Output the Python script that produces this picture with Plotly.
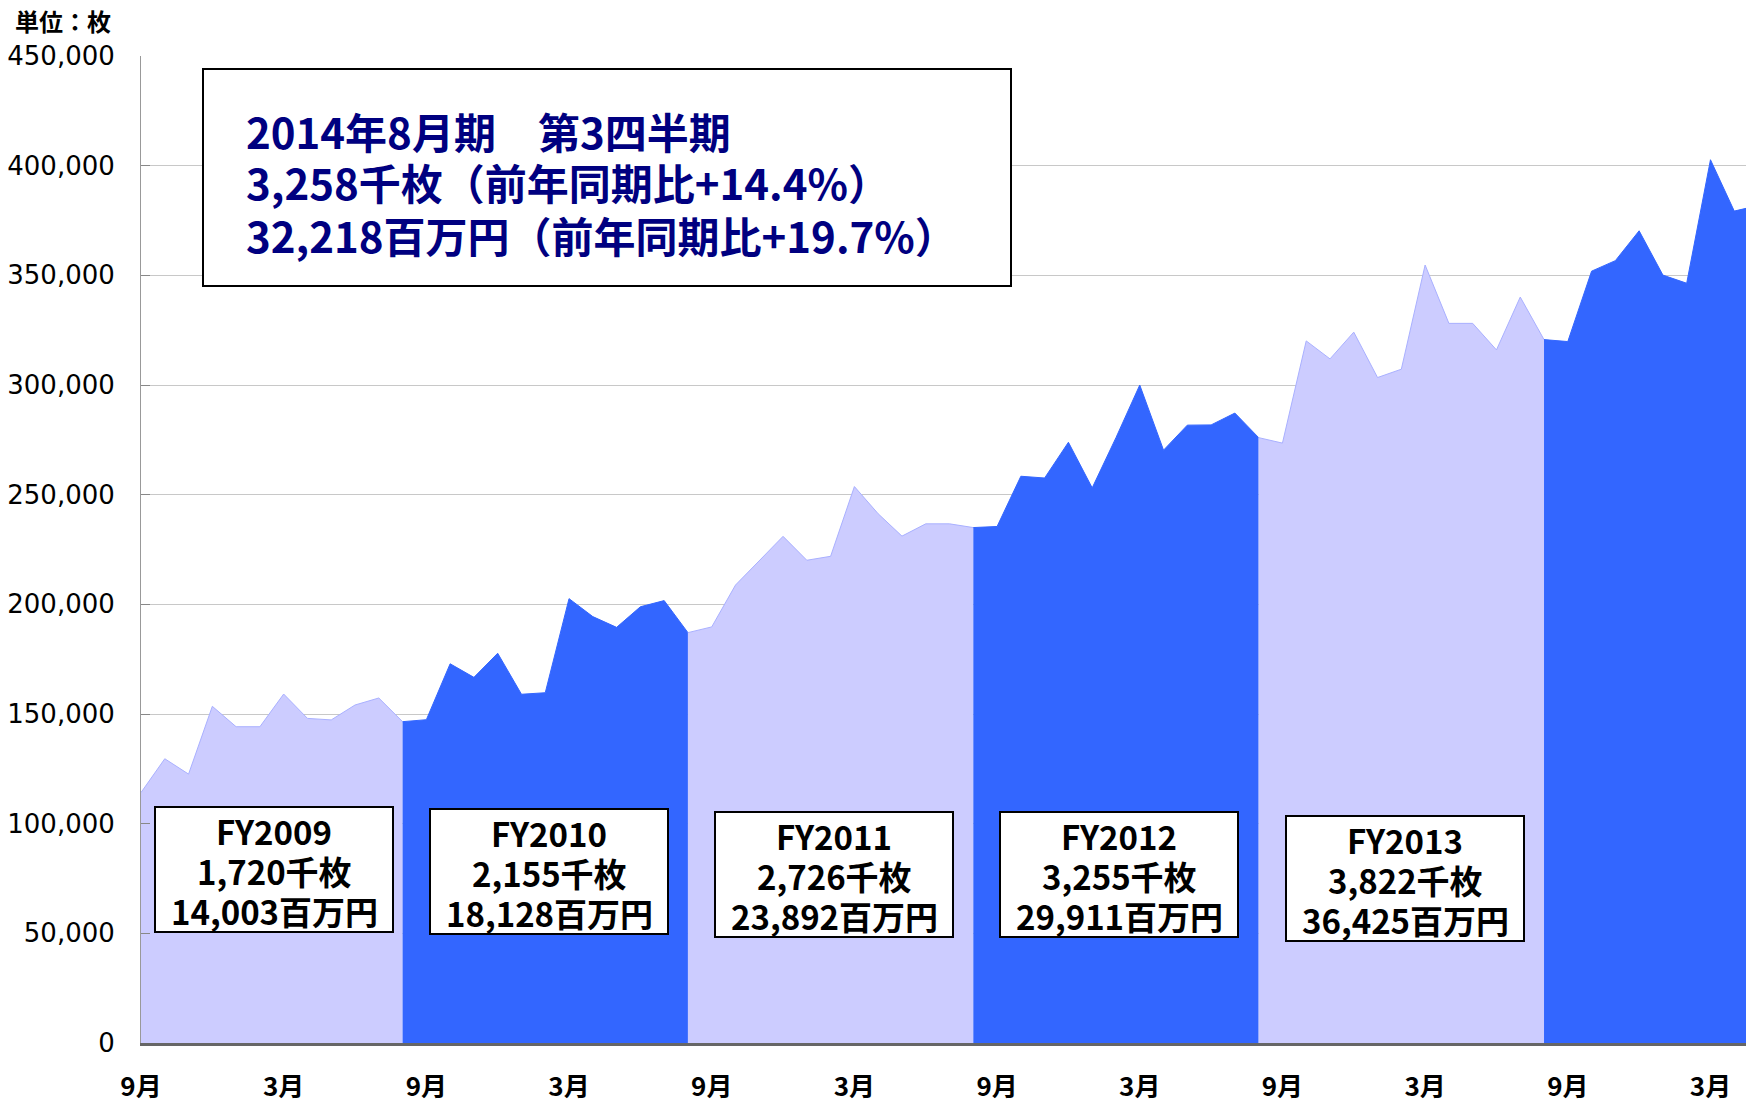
import plotly.graph_objects as go

# ---------------- data ----------------
months = [f"{2008 + (8 + i) // 12}-{(8 + i) % 12 + 1:02d}" for i in range(69)]  # Sep 2008 .. May 2014
monthly_sheets = [
    114200, 129600, 122600, 153500, 144200, 144200, 159100, 148000, 147300, 154100, 157300, 146500,
    147400, 172900, 166700, 177700, 159000, 159700, 202600, 194400, 189500, 198900, 201700, 187100,
    189700, 208800, 220100, 231000, 220100, 221900, 253700, 241300, 231100, 236700, 236700, 235000,
    235500, 258400, 257600, 273900, 253100, 276000, 300000, 270300, 281700, 281800, 287200, 276000,
    273500, 320100, 311900, 324100, 303400, 307200, 354700, 328100, 328100, 316000, 340100, 320700,
    319800, 351900, 356700, 370300, 350100, 346400, 402700, 379300, 381800,
]
fiscal_years = ["FY2009", "FY2010", "FY2011", "FY2012", "FY2013", "FY2014"]
fy_sheets_text = ["1,720千枚", "2,155千枚", "2,726千枚", "3,255千枚", "3,822千枚"]
fy_yen_text = ["14,003百万円", "18,128百万円", "23,892百万円", "29,911百万円", "36,425百万円"]
tick_labels = ["9月", "3月"]
headline = ["2014年8月期　第3四半期", "3,258千枚（前年同期比+14.4%）", "32,218百万円（前年同期比+19.7%）"]

# ---------------- layout geometry (pixels) ----------------
W, H = 1746, 1105
L, R, T, B = 141, 0, 56, 62
PW, PH = W - L - R, H - T - B


def px(xp):
    return (xp - L) / PW


def py(yp):
    return (H - B - yp) / PH


LIGHT = "#CCCCFF"
BLUE = "#3366FF"

fig = go.Figure()
idx = list(range(len(months)))
for k, fy in enumerate(fiscal_years):
    start = 0 if k == 0 else 12 * k - 1
    end = min(12 * k + 11, len(months) - 1)
    xs = idx[start:end + 1]
    ys = monthly_sheets[start:end + 1]
    light = k % 2 == 0
    fig.add_trace(go.Scatter(
        x=xs, y=ys, mode="lines", fill="tozeroy",
        fillcolor=LIGHT if light else BLUE,
        line=dict(color="#A9B0FF" if light else BLUE, width=1),
        name=fy, hoverinfo="skip", showlegend=False,
    ))

tickvals = list(range(0, len(months), 6))
ticktext = [f"<b>{tick_labels[(v // 6) % 2]}</b>" for v in tickvals]

fig.update_layout(
    width=W, height=H,
    margin=dict(l=L, r=R, t=T, b=B, pad=0, autoexpand=False),
    paper_bgcolor="white", plot_bgcolor="white",
    font=dict(family="Noto Sans CJK JP", color="black"),
    xaxis=dict(
        range=[0, (W - L) / 23.78], tickvals=tickvals, ticktext=ticktext, automargin=False,
        showgrid=False, zeroline=False, showline=True, linecolor="#666666", linewidth=3,
        ticks="", tickfont=dict(family="Noto Sans CJK JP", size=26, color="black"),
        ticklabelstandoff=19,
    ),
    yaxis=dict(
        range=[0, 450000], dtick=50000, tickformat=",", automargin=False,
        showgrid=True, gridcolor="#C8C8C8", gridwidth=1, zeroline=False,
        showline=True, linecolor="#999999", linewidth=1,
        ticks="inside", ticklen=9, tickcolor="#888888",
        tickfont=dict(family="DejaVu Sans", size=26, color="black"),
        ticklabelstandoff=20,
    ),
)

shapes = []
annotations = []

# unit label
annotations.append(dict(
    xref="paper", yref="paper", x=px(13), y=py(1), xanchor="left", yanchor="top",
    text="<b>単位：枚</b>", showarrow=False,
    font=dict(family="Noto Sans CJK JP", size=24, color="black"),
))

# headline box
shapes.append(dict(type="rect", xref="paper", yref="paper",
                   x0=px(203), x1=px(1011), y0=py(286), y1=py(69),
                   line=dict(color="black", width=2), fillcolor="white", layer="above"))
for j, line in enumerate(headline):
    annotations.append(dict(
        xref="paper", yref="paper", x=px(244), y=py(130 + 52 * j), xanchor="left", yanchor="middle",
        align="left", text=f"<b>{line}</b>", showarrow=False,
        font=dict(family="Noto Sans CJK JP", size=42, color="#000080"),
    ))

# fiscal-year boxes
box_centers = [274, 549, 834, 1119, 1405]
box_tops = [807, 809, 812, 812, 816]
BW, BH = 238, 125
for i in range(len(fy_sheets_text)):
    cx, top = box_centers[i], box_tops[i]
    shapes.append(dict(type="rect", xref="paper", yref="paper",
                       x0=px(cx - BW / 2), x1=px(cx + BW / 2), y0=py(top + BH), y1=py(top),
                       line=dict(color="black", width=2), fillcolor="white", layer="above"))
    for j, t in enumerate([fiscal_years[i], fy_sheets_text[i], fy_yen_text[i]]):
        annotations.append(dict(
            xref="paper", yref="paper", x=px(cx), y=py(top + 24 + 40 * j),
            xanchor="center", yanchor="middle", text=f"<b>{t}</b>", showarrow=False,
            font=dict(family="Noto Sans CJK JP", size=33, color="black"),
        ))

fig.update_layout(shapes=shapes, annotations=annotations)
fig.write_html(
    "out.html",
    config={"displayModeBar": False},
    post_script="document.body.style.margin='0';document.body.style.overflow='hidden';",
)
